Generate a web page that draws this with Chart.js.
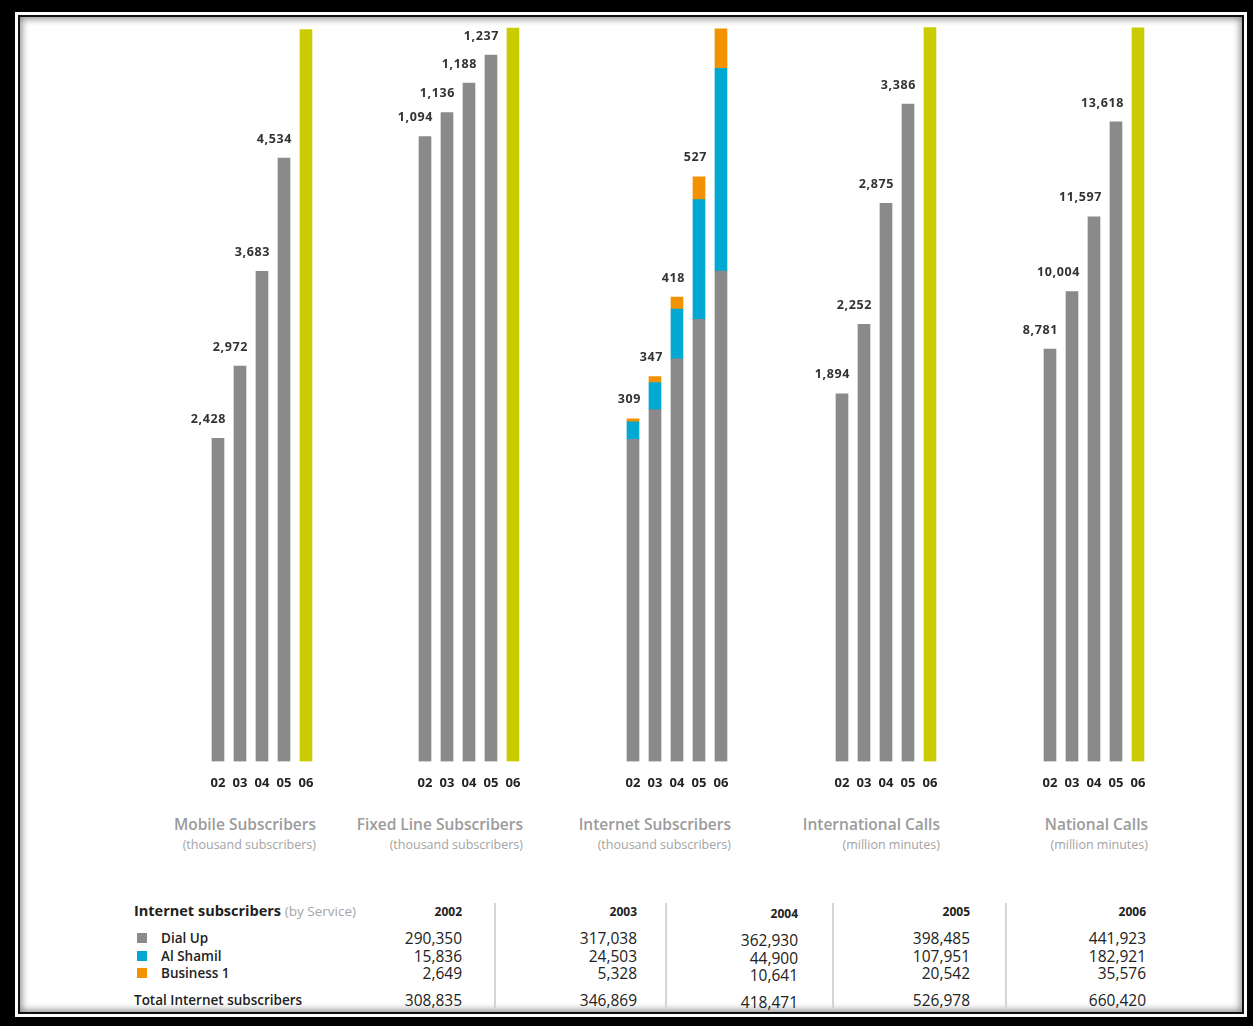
<!DOCTYPE html>
<html>
<head>
<meta charset="utf-8">
<script src="https://cdn.jsdelivr.net/npm/chart.js@4.4.1/dist/chart.umd.min.js"></script>
<style>
html, body { margin: 0; padding: 0; width: 1253px; height: 1026px; overflow: hidden; background: #000; font-family: "Open Sans", sans-serif; }
#frame { position: absolute; left: 15px; top: 12px; width: 1226px; height: 999px; border: 3px solid #fff; }
#paper { position: absolute; left: 0; top: 0; right: 0; bottom: 0; border: 2px solid #111; background: #fff; box-shadow: inset 0 0 7px 2px rgba(0,0,0,0.45); }
canvas.panel { position: absolute; top: 0; z-index: 2; }
.title { position: absolute; z-index: 2; text-align: right; color: #9b9b9b; font-size: 15.5px; font-weight: 600; white-space: nowrap; }
.sub { position: absolute; z-index: 2; text-align: right; color: #a3a3a3; font-size: 12.5px; white-space: nowrap; }
.t { position: absolute; z-index: 2; white-space: nowrap; color: #222; }
.sep { position: absolute; z-index: 2; width: 2px; background: #d4d4d4; }
.sq { position: absolute; z-index: 2; width: 10px; height: 10px; }
</style>
</head>
<body>
<div id="frame"><div id="paper"></div></div>
<script>
// Data
const years = ['02', '03', '04', '05', '06'];
const mobileValues = [2428, 2972, 3683, 4534, 5500];
const fixedValues = [1094, 1136, 1188, 1237, 1284];
const intlValues = [1894, 2252, 2875, 3386, 3780];
const nationalValues = [8781, 10004, 11597, 13618, 15620];
// Internet subscribers by service (subscribers)
const dialUp = [290350, 317038, 362930, 398485, 441923];
const alShamil = [15836, 24503, 44900, 107951, 182921];
const business1 = [2649, 5328, 10641, 20542, 35576];
const tableYears = ['2002', '2003', '2004', '2005', '2006'];

const titles = ['Mobile Subscribers', 'Fixed Line Subscribers', 'Internet Subscribers', 'International Calls', 'National Calls'];
const subtitles = ['(thousand subscribers)', '(thousand subscribers)', '(thousand subscribers)', '(million minutes)', '(million minutes)'];

// Layout
const firstBar = [218, 425, 633, 842, 1050];
const step = 23;
const padLeft = 60;
const yMax = [5520, 1286, 662, 3783, 15640];

const GRAY = '#8a8a8a';
const LIME = '#c9cd00';
const BLUE = '#00a8d2';
const ORANGE = '#f39200';

const fmt = v => v.toLocaleString('en-US');

const barLabels = {
    id: 'barLabels',
    afterDatasetsDraw(chart, args, opts) {
        const ctx = chart.ctx;
        const top = chart.getDatasetMeta(chart.data.datasets.length - 1);
        ctx.save();
        ctx.font = 'bold 12.5px "Open Sans"';
        ctx.letterSpacing = '0.6px';
        ctx.fillStyle = '#333';
        ctx.textAlign = 'right';
        ctx.textBaseline = 'middle';
        opts.labels.forEach((txt, i) => {
            if (!txt) return;
            const bar = top.data[i];
            ctx.fillText(txt, bar.x + bar.width / 2 + 2, bar.y - 19);
        });
        ctx.restore();
    }
};

function makePanel(i, datasets, labels, stacked) {
    const canvas = document.createElement('canvas');
    canvas.className = 'panel';
    const w = padLeft + 5 * step + 6;
    canvas.style.left = (firstBar[i] - step / 2 - padLeft) + 'px';
    canvas.style.width = w + 'px';
    canvas.style.height = '805px';
    canvas.width = w;
    canvas.height = 805;
    document.body.appendChild(canvas);

    new Chart(canvas.getContext('2d'), {
        type: 'bar',
        data: { labels: years, datasets: datasets },
        options: {
            responsive: false,
            animation: false,
            layout: { padding: { left: padLeft, right: 6, top: 27, bottom: 0 } },
            plugins: {
                legend: { display: false },
                tooltip: { enabled: false },
                barLabels: { labels: labels }
            },
            scales: {
                x: {
                    stacked: stacked,
                    grid: { display: false, drawTicks: false },
                    border: { display: false },
                    ticks: { color: '#222', font: { family: 'Open Sans', size: 13, weight: 'bold' }, padding: 14, maxRotation: 0, autoSkip: false }
                },
                y: {
                    stacked: stacked,
                    display: false,
                    min: 0,
                    max: yMax[i]
                }
            }
        },
        plugins: [barLabels]
    });

    const right = firstBar[i] + 4 * step + 6;
    const t = document.createElement('div');
    t.className = 'title';
    t.textContent = titles[i];
    t.style.right = (1253 - right) + 'px';
    t.style.top = '813px';
    document.body.appendChild(t);
    const s = document.createElement('div');
    s.className = 'sub';
    s.textContent = subtitles[i];
    s.style.right = (1253 - right) + 'px';
    s.style.top = '836px';
    document.body.appendChild(s);
}

const singleColors = [GRAY, GRAY, GRAY, GRAY, LIME];
const single = (values) => [{ data: values, backgroundColor: singleColors, barThickness: 12 }];
const topLabels = (values) => values.slice(0, 4).map(fmt);

makePanel(0, single(mobileValues), topLabels(mobileValues), false);
makePanel(1, single(fixedValues), topLabels(fixedValues), false);

const totals = dialUp.map((v, k) => v + alShamil[k] + business1[k]);
makePanel(2, [
    { label: 'Dial Up', data: dialUp.map(v => v / 1000), backgroundColor: GRAY, barThickness: 12 },
    { label: 'Al Shamil', data: alShamil.map(v => v / 1000), backgroundColor: BLUE, barThickness: 12 },
    { label: 'Business 1', data: business1.map(v => v / 1000), backgroundColor: ORANGE, barThickness: 12 }
], totals.slice(0, 4).map(v => String(Math.round(v / 1000))), true);

makePanel(3, single(intlValues), topLabels(intlValues), false);
makePanel(4, single(nationalValues), topLabels(nationalValues), false);

// Table
function text(str, x, y, style, alignRight) {
    const d = document.createElement('div');
    d.className = 't';
    d.innerHTML = str;
    if (alignRight) d.style.right = (1253 - x) + 'px';
    else d.style.left = x + 'px';
    d.style.top = y + 'px';
    Object.assign(d.style, style || {});
    document.body.appendChild(d);
    return d;
}

const colRight = [462, 637, 798, 970, 1146];
const colShift = [0, 0, 2, 0, 0];
const rowY = [929, 947, 964, 991];
const headStyle = { fontSize: '14.5px', fontWeight: '700', lineHeight: '18px' };
text('Internet subscribers <span style="font-weight:400;color:#a5a5a5;font-size:13.5px">(by Service)</span>', 134, 902, headStyle);

const rowNames = ['Dial Up', 'Al Shamil', 'Business 1'];
const rowColors = [GRAY, BLUE, ORANGE];
const labelStyle = { fontSize: '13.5px', fontWeight: '600', lineHeight: '18px' };
rowNames.forEach((n, r) => {
    text(n, 161, rowY[r], labelStyle);
    const q = document.createElement('div');
    q.className = 'sq';
    q.style.left = '137px';
    q.style.top = (rowY[r] + 4) + 'px';
    q.style.background = rowColors[r];
    document.body.appendChild(q);
});
text('Total Internet subscribers', 134, rowY[3], labelStyle);

const rows = [dialUp, alShamil, business1, totals];
tableYears.forEach((yr, c) => {
    text(yr, colRight[c], 903 + colShift[c], { fontSize: '12px', fontWeight: '700', lineHeight: '18px' }, true);
    rows.forEach((row, r) => {
        text(fmt(row[c]), colRight[c], rowY[r] + colShift[c], { fontSize: '15.5px', fontWeight: '500', lineHeight: '18px' }, true);
    });
});

[494, 665, 832, 1005].forEach(x => {
    const d = document.createElement('div');
    d.className = 'sep';
    d.style.left = x + 'px';
    d.style.top = '903px';
    d.style.height = '106px';
    document.body.appendChild(d);
});
</script>
</body>
</html>
